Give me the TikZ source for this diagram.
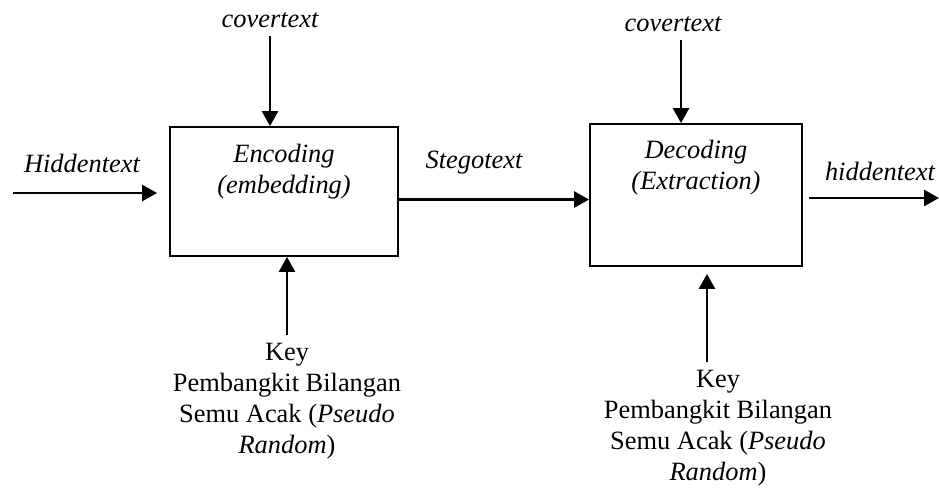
\documentclass[tikz,border=0pt]{standalone}
\usepackage{fontspec}
\setmainfont{Liberation Serif}
\usetikzlibrary{positioning, arrows.meta}
\begin{document}
\begin{tikzpicture}[
      x=0.5pt, y=-0.5pt,
      every node/.style={font=\fontsize{13.2}{15.5}\selectfont, inner sep=2pt},
      blok/.style={draw, line width=0.9pt, minimum width=114pt, minimum height=64.5pt},
      isi/.style={align=center, font=\fontsize{13.2}{15.5}\selectfont\itshape},
      kunci/.style={align=center},
      arr/.style={-{Triangle[length=7.5pt, width=8pt]}, line width=1.3pt}
    ]
      \useasboundingbox (0,0) rectangle (939,488);
      \node[blok, label={[isi, yshift=10pt]center:{Encoding\\(embedding)}}] (enc) at (284,191.5) {};
      \node[blok, minimum width=106pt, minimum height=71pt,
        label={[isi, yshift=13.75pt]center:{Decoding\\(Extraction)}}] (dec) at (696,195) {};
      \node[font=\fontsize{13.2}{15.5}\selectfont\itshape] (cov1) at (270,20) {covertext};
      \node[font=\fontsize{13.2}{15.5}\selectfont\itshape] (cov2) at (673,24) {covertext};
      \node[font=\fontsize{13.2}{15.5}\selectfont\itshape] (hid) at (82,163) {Hiddentext};
      \node[font=\fontsize{13.2}{15.5}\selectfont\itshape] (steg) at (474,163) {Stegotext};
      \node[font=\fontsize{13.2}{15.5}\selectfont\itshape] (hidout) at (880,171) {hiddentext};
      \node[kunci] (key1) at (287,401) {Key\\Pembangkit Bilangan\\Semu Acak (\textit{Pseudo}\\\textit{Random})};
      \node[kunci] (key2) at (718,428.5) {Key\\Pembangkit Bilangan\\Semu Acak (\textit{Pseudo}\\\textit{Random})};
      \coordinate (hin) at (13,193);
      \coordinate (hend) at (939,198);
      \draw[arr, shorten >=6pt] (hin) -- (enc.west |- hin);
      \draw[arr] ([yshift=-4pt]enc.east) -- ([yshift=-4pt]enc.east -| dec.west);
      \draw[arr, shorten <=3pt] (dec.east |- hend) -- (hend);
      \draw[arr, shorten <=2pt] (cov1.south) -- (cov1.south |- enc.north);
      \draw[arr, shorten <=2pt] ([xshift=4pt]cov2.south) -- ([xshift=4pt]cov2.south |- dec.north);
      \draw[arr, shorten <=2pt] (key1.north) -- (key1.north |- enc.south);
      \draw[arr, shorten <=2pt, shorten >=3.5pt] ([xshift=-5.5pt]key2.north) -- ([xshift=-5.5pt]key2.north |- dec.south);
    \end{tikzpicture}
\end{document}
